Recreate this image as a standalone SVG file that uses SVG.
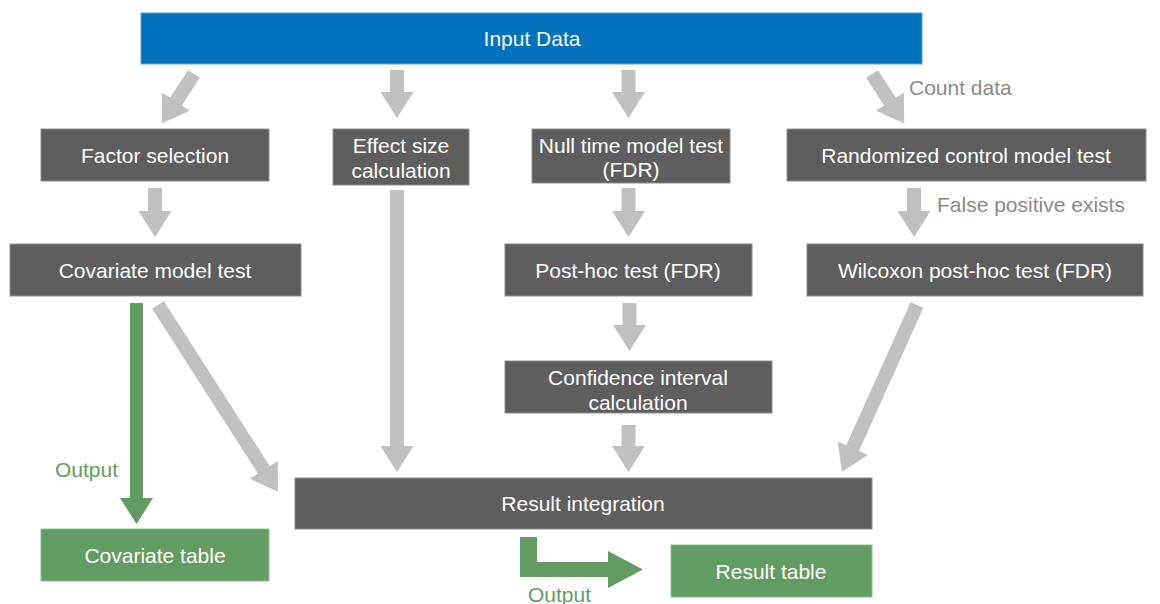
<svg xmlns="http://www.w3.org/2000/svg" width="1160" height="604" viewBox="0 0 1160 604">
<style>
.box{fill:#5e5e5e;stroke:#8e8e8e;stroke-width:1}
.blue{fill:#0071bb;stroke:#5aa2d6;stroke-width:1}
.grn{fill:#639c62;stroke:#8cbf8a;stroke-width:1}
.t{font-family:"Liberation Sans",Arial,sans-serif;font-size:21px;fill:#ffffff;text-anchor:middle}
.lbl{font-family:"Liberation Sans",Arial,sans-serif;font-size:21px;fill:#8a8a8a}
.glbl{font-family:"Liberation Sans",Arial,sans-serif;font-size:21px;fill:#639c62}
.ga{fill:#c0c0c0}
.gr{fill:#639c62}
</style>
<rect width="1160" height="604" fill="#ffffff"/>
<g id="connectors">
  <!-- Input -> Factor selection -->
  <polygon class="ga" transform="translate(194,74) rotate(33.1)" points="-7,0 7,0 7,33 16.5,33 0,59 -16.5,33 -7,33"/>
  <!-- Input -> Effect size -->
  <polygon class="ga" points="390,70 404,70 404,92 413.5,92 397,118 380.5,92 390,92"/>
  <!-- Input -> Null time -->
  <polygon class="ga" points="621.5,70 635.5,70 635.5,92 645,92 628.5,118 612,92 621.5,92"/>
  <!-- Input -> Randomized (Count data) -->
  <polygon class="ga" transform="translate(872,74) rotate(-33.1)" points="-7,0 7,0 7,33 16.5,33 0,59 -16.5,33 -7,33"/>
  <!-- Factor -> Covariate -->
  <polygon class="ga" points="148,188 162,188 162,211 171.5,211 155,237 138.5,211 148,211"/>
  <!-- Null -> Post-hoc -->
  <polygon class="ga" points="621.5,188 635.5,188 635.5,211 645,211 628.5,237 612,211 621.5,211"/>
  <!-- Randomized -> Wilcoxon -->
  <polygon class="ga" points="907,188 921,188 921,211 930.5,211 914,237 897.5,211 907,211"/>
  <!-- Post-hoc -> CI -->
  <polygon class="ga" points="622.5,303 636.5,303 636.5,325 646,325 629.5,351 613,325 622.5,325"/>
  <!-- Effect size -> Result -->
  <polygon class="ga" points="390,190 404,190 404,446 413.5,446 397,472 380.5,446 390,446"/>
  <!-- CI -> Result -->
  <polygon class="ga" points="621.5,425 635.5,425 635.5,446 645,446 628.5,472 612,446 621.5,446"/>
  <!-- Covariate -> Result -->
  <polygon class="ga" transform="translate(158,305) rotate(-32.7)" points="-7,0 7,0 7,196 16.5,196 0,222 -16.5,196 -7,196"/>
  <!-- Wilcoxon -> Result -->
  <polygon class="ga" transform="translate(917,305) rotate(24.2)" points="-7,0 7,0 7,157 16.5,157 0,183 -16.5,157 -7,157"/>
  <!-- Covariate -> Covariate table (Output) -->
  <polygon class="gr" points="130,303 143,303 143,498 153,498 136.5,524 120,498 130,498"/>
  <!-- Result -> Result table (Output) -->
  <path class="gr" d="M520,537 H537 V562 H608 V551 L643,569.5 L608,588 V577 H520 Z"/>
  <text class="lbl" x="909" y="95">Count data</text>
  <text class="lbl" x="937" y="212">False positive exists</text>
  <text class="glbl" x="55" y="477">Output</text>
  <text class="glbl" x="528" y="602">Output</text>
</g>
<g id="input-data">
  <rect class="blue" x="141" y="13" width="781" height="51"/>
  <text class="t" x="532" y="46">Input Data</text>
</g>
<g id="factor-selection">
  <rect class="box" x="41" y="129" width="228" height="52"/>
  <text class="t" x="155" y="163">Factor selection</text>
</g>
<g id="effect-size">
  <rect class="box" x="333" y="129" width="136" height="56"/>
  <text class="t" x="401" y="153">Effect size</text>
  <text class="t" x="401" y="178">calculation</text>
</g>
<g id="null-time">
  <rect class="box" x="532" y="129" width="198" height="54"/>
  <text class="t" x="631" y="153">Null time model test</text>
  <text class="t" x="631" y="177">(FDR)</text>
</g>
<g id="randomized">
  <rect class="box" x="787" y="129" width="359" height="52"/>
  <text class="t" x="966" y="163">Randomized control model test</text>
</g>
<g id="covariate-model">
  <rect class="box" x="10" y="244" width="291" height="52"/>
  <text class="t" x="155" y="278">Covariate model test</text>
</g>
<g id="post-hoc">
  <rect class="box" x="505" y="244" width="247" height="52"/>
  <text class="t" x="628" y="278">Post-hoc test (FDR)</text>
</g>
<g id="wilcoxon">
  <rect class="box" x="807" y="244" width="336" height="52"/>
  <text class="t" x="975" y="278">Wilcoxon post-hoc test (FDR)</text>
</g>
<g id="confidence-interval">
  <rect class="box" x="505" y="361" width="267" height="52"/>
  <text class="t" x="638" y="385">Confidence interval</text>
  <text class="t" x="638" y="410">calculation</text>
</g>
<g id="result-integration">
  <rect class="box" x="295" y="478" width="577" height="51"/>
  <text class="t" x="583" y="511">Result integration</text>
</g>
<g id="covariate-table">
  <rect class="grn" x="41" y="529" width="228" height="52"/>
  <text class="t" x="155" y="563">Covariate table</text>
</g>
<g id="result-table">
  <rect class="grn" x="671" y="545" width="201" height="52"/>
  <text class="t" x="771" y="579">Result table</text>
</g>
</svg>
